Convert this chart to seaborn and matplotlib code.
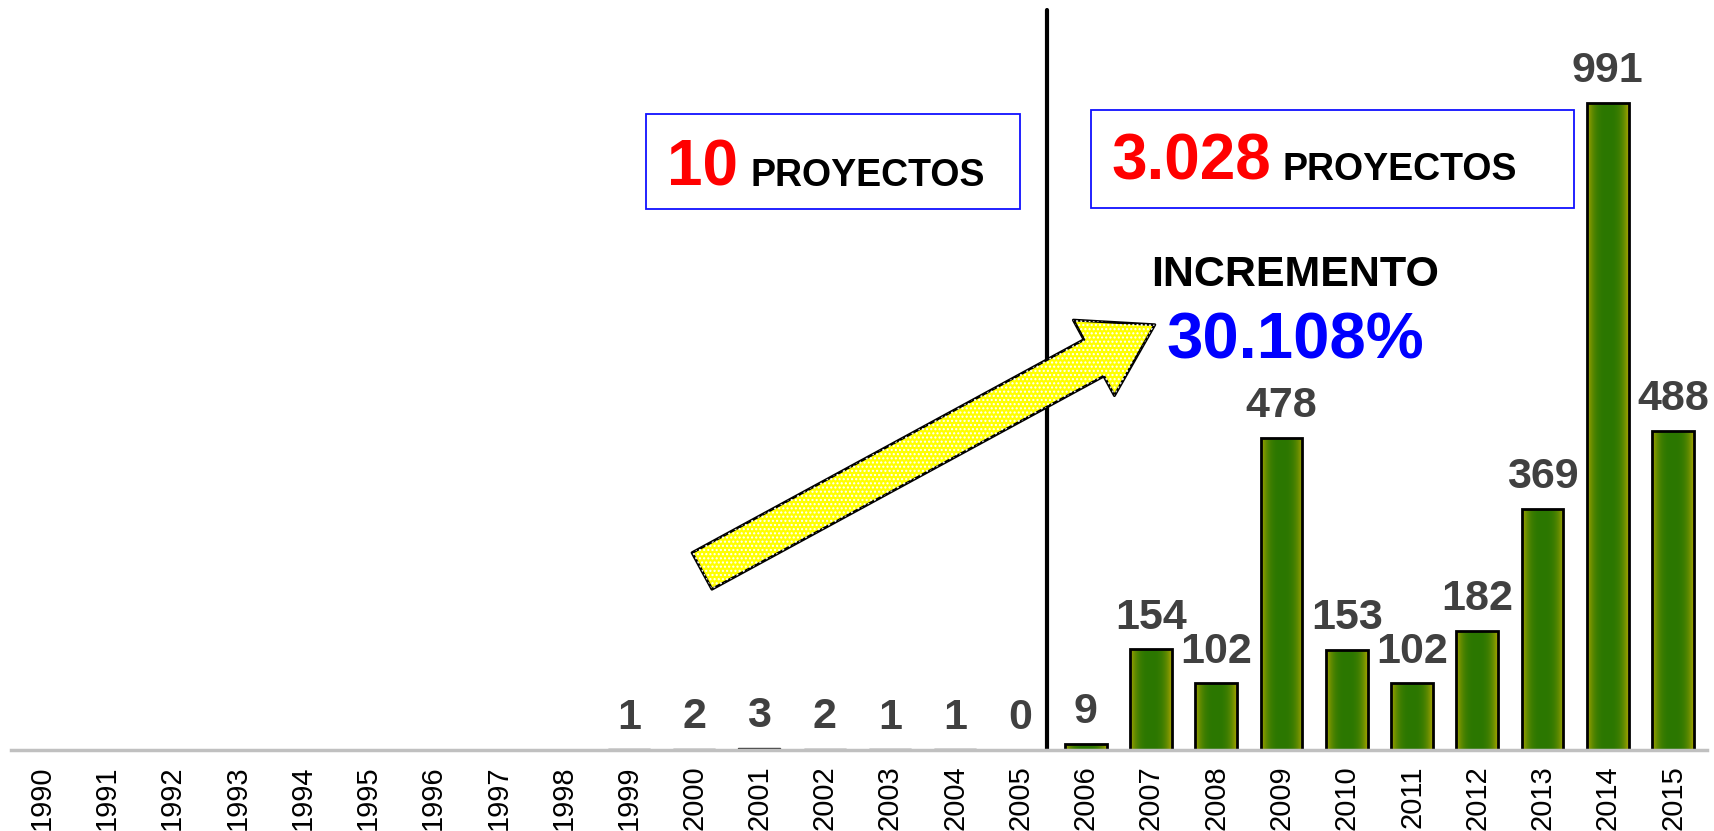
import numpy as np
import pandas as pd
import seaborn as sns
import matplotlib.pyplot as plt
from matplotlib.patches import Rectangle, FancyArrowPatch
from matplotlib.colors import to_rgb

# Data
years = [str(y) for y in range(1990, 2016)]
projects = [0, 0, 0, 0, 0, 0, 0, 0, 0, 1, 2, 3, 2, 1, 1, 0,
            9, 154, 102, 478, 153, 102, 182, 369, 991, 488]
labels = ['', '', '', '', '', '', '', '', '', '1', '2', '3', '2', '1', '1', '0',
          '9', '154', '102', '478', '153', '102', '182', '369', '991', '488']
before_total = '10'
after_total = '3.028'
increase = '30.108%'

df = pd.DataFrame({'year': years, 'projects': projects})

sns.set_theme(style='white')
plt.rcParams['font.family'] = ['Liberation Sans', 'DejaVu Sans']

fig = plt.figure(figsize=(17.14, 8.31), dpi=100)
ax = fig.add_axes([11 / 1714, 1 - 750 / 831, 1696 / 1714, 750 / 831])

sns.barplot(data=df, x='year', y='projects', ax=ax, width=0.64,
            color='#2d7600', edgecolor='black', linewidth=2, zorder=3)

# gradient fill for the bars (olive at the sides, green in the middle)
edge_c = np.array(to_rgb('#a8a400'))
mid_c = np.array(to_rgb('#2b7700'))
xs = np.linspace(-1, 1, 64)
t = np.abs(xs) ** 3
grad = (mid_c[None, :] * (1 - t[:, None]) + edge_c[None, :] * t[:, None])[None, :, :]
for p in ax.patches:
    h = p.get_height()
    if h <= 0:
        continue
    x0 = p.get_x()
    w = p.get_width()
    im = ax.imshow(grad, extent=[x0, x0 + w, 0, h], aspect='auto', zorder=2.5,
                   interpolation='bilinear')
    im.set_clip_path(p)
    p.set_facecolor('none')
    if h < 5:
        p.set_linewidth(1.0)
        p.set_edgecolor('#333333')

# value labels
for p, lab in zip(ax.patches, labels):
    if lab == '':
        continue
    ax.annotate(lab, (p.get_x() + p.get_width() / 2, p.get_height()),
                xytext=(0, 15), textcoords='offset points', ha='center',
                va='baseline', fontsize=31, fontweight='bold', color='#404040')

ax.set_xlim(-0.467, 25.52)
ax.set_ylim(0, 1148)

# divider line
ax.plot([15.4, 15.4], [0, 1132], color='black', lw=3, zorder=4)

# boxes with totals
ax.add_patch(Rectangle((9.26, 828), 14.99 - 9.26, 974 - 828, fill=False,
                       edgecolor='#1010ff', lw=1.3, zorder=4))
ax.add_patch(Rectangle((16.08, 830), 23.48 - 16.08, 980 - 830, fill=False,
                       edgecolor='#1010ff', lw=1.3, zorder=4))
ax.text(9.585, 864, before_total, color='red', fontsize=46, fontweight='bold',
        ha='left', va='baseline')
ax.text(10.86, 864, 'PROYECTOS', color='black', fontsize=27, fontweight='bold',
        ha='left', va='baseline')
ax.text(16.39, 873, after_total, color='red', fontsize=46, fontweight='bold',
        ha='left', va='baseline')
ax.text(19.02, 873, 'PROYECTOS', color='black', fontsize=27, fontweight='bold',
        ha='left', va='baseline')

ax.text(19.21, 710, 'INCREMENTO', color='black', fontsize=31, fontweight='bold',
        ha='center', va='baseline')
ax.text(19.21, 600, increase, color='#0000ff', fontsize=47, fontweight='bold',
        ha='center', va='baseline')

# yellow arrow
style = 'simple,head_length=50,head_width=62,tail_width=30'
arrow = FancyArrowPatch((10.12, 274), (17.06, 651), arrowstyle=style,
                        connectionstyle='arc3,rad=0', facecolor='#ffff00',
                        edgecolor='black', lw=2, zorder=5, shrinkA=0, shrinkB=0)
ax.add_patch(arrow)
dots = FancyArrowPatch((10.12, 274), (17.06, 651), arrowstyle=style,
                       connectionstyle='arc3,rad=0', facecolor='none',
                       edgecolor='white', hatch='....', lw=0, zorder=5.1,
                       shrinkA=0, shrinkB=0)
ax.add_patch(dots)

# axes styling
sns.despine(ax=ax, left=True, top=True, right=True)
ax.spines['bottom'].set_color('#c0c0c0')
ax.spines['bottom'].set_linewidth(2.5)
ax.spines['bottom'].set_zorder(6)
ax.set_yticks([])
ax.set_xlabel('')
ax.set_ylabel('')
ax.tick_params(axis='x', length=0, pad=11, labelsize=21, labelcolor='black',
               labelrotation=90)

fig.savefig('out.png', dpi=100)
